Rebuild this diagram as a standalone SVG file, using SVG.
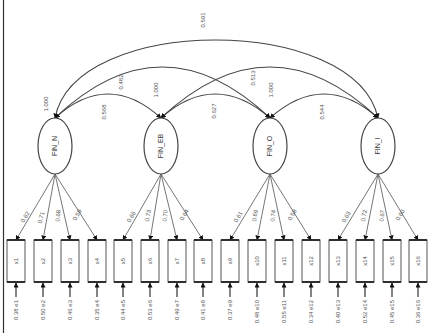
<svg xmlns="http://www.w3.org/2000/svg" width="433" height="333" viewBox="0 0 433 333">
<style>
.arc{stroke:#444;stroke-width:1.1;fill:none;marker-start:url(#ah);marker-end:url(#ah)}
.ld{stroke:#666;stroke-width:0.9;fill:none;marker-end:url(#ah)}
.er{stroke:#333;stroke-width:1.2;fill:none;marker-end:url(#ah)}
.lat{fill:#fff;stroke:#444;stroke-width:1.2}
.box{fill:#fff;stroke:#555;stroke-width:1}
.bar{stroke:#222;stroke-width:1.8}
.t{font-family:"Liberation Sans",Arial,sans-serif;font-size:6px;fill:#555;text-anchor:middle}
.te{font-family:"Liberation Sans",Arial,sans-serif;font-size:6px;fill:#555;text-anchor:end}
.tl{font-family:"Liberation Sans",Arial,sans-serif;font-size:7px;fill:#333;text-anchor:middle}
</style>
<defs>
<marker id="ah" viewBox="0 0 10 10" refX="9" refY="5" markerWidth="5" markerHeight="5" orient="auto-start-reverse" markerUnits="userSpaceOnUse">
<path d="M0,0 L10,5 L0,10 z" fill="#111"/>
</marker>
</defs>
<rect width="433" height="333" fill="#fff"/>
<line x1="3.5" y1="0" x2="3.5" y2="333" stroke="#333" stroke-width="1.2"/>

<g id="connectors">
<path class="arc" d="M55,118 Q108,70 161,118"/>
<path class="arc" d="M161,118 Q215,70 270,118"/>
<path class="arc" d="M270,118 Q324,70 378,118"/>
<path class="arc" d="M55,118 Q162,16 270,118"/>
<path class="arc" d="M161,118 Q270,16 378,118"/>
<path class="arc" d="M55,118 C75,14 355,14 378,118"/>
<path class="ld" d="M55,174 L16,240"/>
<path class="ld" d="M55,174 L43,240"/>
<path class="ld" d="M55,174 L70,240"/>
<path class="ld" d="M55,174 L97,240"/>
<path class="ld" d="M161,174 L123,240"/>
<path class="ld" d="M161,174 L150,240"/>
<path class="ld" d="M161,174 L177,240"/>
<path class="ld" d="M161,174 L203,240"/>
<path class="ld" d="M270,174 L230,240"/>
<path class="ld" d="M270,174 L257,240"/>
<path class="ld" d="M270,174 L284,240"/>
<path class="ld" d="M270,174 L311,240"/>
<path class="ld" d="M378,174 L338,240"/>
<path class="ld" d="M378,174 L365,240"/>
<path class="ld" d="M378,174 L392,240"/>
<path class="ld" d="M378,174 L418,240"/>
<path class="er" d="M16,297 L16,283"/>
<path class="er" d="M43,297 L43,283"/>
<path class="er" d="M70,297 L70,283"/>
<path class="er" d="M97,297 L97,283"/>
<path class="er" d="M123,297 L123,283"/>
<path class="er" d="M150,297 L150,283"/>
<path class="er" d="M177,297 L177,283"/>
<path class="er" d="M203,297 L203,283"/>
<path class="er" d="M230,297 L230,283"/>
<path class="er" d="M257,297 L257,283"/>
<path class="er" d="M284,297 L284,283"/>
<path class="er" d="M311,297 L311,283"/>
<path class="er" d="M338,297 L338,283"/>
<path class="er" d="M365,297 L365,283"/>
<path class="er" d="M392,297 L392,283"/>
<path class="er" d="M418,297 L418,283"/>
</g>

<g id="cov-labels">
<text class="t" transform="translate(205,20) rotate(-90)">0.591</text>
<text class="t" transform="translate(123,82) rotate(-90)">0.482</text>
<text class="t" transform="translate(255,78) rotate(-90)">0.513</text>
<text class="t" transform="translate(106,112) rotate(-90)">0.568</text>
<text class="t" transform="translate(216,111) rotate(-90)">0.627</text>
<text class="t" transform="translate(324,112) rotate(-90)">0.544</text>
<text class="t" transform="translate(48,104) rotate(-90)">1.000</text>
<text class="t" transform="translate(158,90) rotate(-90)">1.000</text>
<text class="t" transform="translate(273,90) rotate(-90)">1.000</text>
</g>

<g id="F1"><ellipse class="lat" cx="55" cy="146" rx="17" ry="28"/><text class="tl" transform="translate(57,146) rotate(-90)">FIN_N</text></g>
<g id="F2"><ellipse class="lat" cx="161" cy="146" rx="17" ry="28"/><text class="tl" transform="translate(163,146) rotate(-90)">FIN_EB</text></g>
<g id="F3"><ellipse class="lat" cx="270" cy="146" rx="17" ry="28"/><text class="tl" transform="translate(272,146) rotate(-90)">FIN_O</text></g>
<g id="F4"><ellipse class="lat" cx="378" cy="146" rx="17" ry="28"/><text class="tl" transform="translate(380,146) rotate(-90)">FIN_I</text></g>

<g id="loading-labels">
<text class="t" transform="translate(27,218) rotate(-60)">0.62</text>
<text class="t" transform="translate(43,218) rotate(-75)">0.71</text>
<text class="t" transform="translate(60,216) rotate(-85)">0.68</text>
<text class="t" transform="translate(79,216) rotate(-60)">0.59</text>
<text class="t" transform="translate(133,218) rotate(-60)">0.66</text>
<text class="t" transform="translate(150,216) rotate(-80)">0.73</text>
<text class="t" transform="translate(167,216) rotate(-85)">0.70</text>
<text class="t" transform="translate(186,216) rotate(-60)">0.64</text>
<text class="t" transform="translate(240,218) rotate(-60)">0.61</text>
<text class="t" transform="translate(257,216) rotate(-80)">0.69</text>
<text class="t" transform="translate(275,216) rotate(-85)">0.74</text>
<text class="t" transform="translate(294,216) rotate(-60)">0.58</text>
<text class="t" transform="translate(348,218) rotate(-60)">0.63</text>
<text class="t" transform="translate(366,216) rotate(-80)">0.72</text>
<text class="t" transform="translate(384,216) rotate(-85)">0.67</text>
<text class="t" transform="translate(402,216) rotate(-60)">0.60</text>
</g>

<g id="x1"><rect class="box" x="7" y="240" width="18" height="42"/><line class="bar" x1="7" y1="240" x2="25" y2="240"/><line class="bar" x1="7" y1="282" x2="25" y2="282"/><text class="t" transform="translate(18,261) rotate(-90)">x1</text></g>
<g id="x2"><rect class="box" x="34" y="240" width="18" height="42"/><line class="bar" x1="34" y1="240" x2="52" y2="240"/><line class="bar" x1="34" y1="282" x2="52" y2="282"/><text class="t" transform="translate(45,261) rotate(-90)">x2</text></g>
<g id="x3"><rect class="box" x="61" y="240" width="18" height="42"/><line class="bar" x1="61" y1="240" x2="79" y2="240"/><line class="bar" x1="61" y1="282" x2="79" y2="282"/><text class="t" transform="translate(72,261) rotate(-90)">x3</text></g>
<g id="x4"><rect class="box" x="88" y="240" width="18" height="42"/><line class="bar" x1="88" y1="240" x2="106" y2="240"/><line class="bar" x1="88" y1="282" x2="106" y2="282"/><text class="t" transform="translate(99,261) rotate(-90)">x4</text></g>
<g id="x5"><rect class="box" x="114" y="240" width="18" height="42"/><line class="bar" x1="114" y1="240" x2="132" y2="240"/><line class="bar" x1="114" y1="282" x2="132" y2="282"/><text class="t" transform="translate(125,261) rotate(-90)">x5</text></g>
<g id="x6"><rect class="box" x="141" y="240" width="18" height="42"/><line class="bar" x1="141" y1="240" x2="159" y2="240"/><line class="bar" x1="141" y1="282" x2="159" y2="282"/><text class="t" transform="translate(152,261) rotate(-90)">x6</text></g>
<g id="x7"><rect class="box" x="168" y="240" width="18" height="42"/><line class="bar" x1="168" y1="240" x2="186" y2="240"/><line class="bar" x1="168" y1="282" x2="186" y2="282"/><text class="t" transform="translate(179,261) rotate(-90)">x7</text></g>
<g id="x8"><rect class="box" x="194" y="240" width="18" height="42"/><line class="bar" x1="194" y1="240" x2="212" y2="240"/><line class="bar" x1="194" y1="282" x2="212" y2="282"/><text class="t" transform="translate(205,261) rotate(-90)">x8</text></g>
<g id="x9"><rect class="box" x="221" y="240" width="18" height="42"/><line class="bar" x1="221" y1="240" x2="239" y2="240"/><line class="bar" x1="221" y1="282" x2="239" y2="282"/><text class="t" transform="translate(232,261) rotate(-90)">x9</text></g>
<g id="x10"><rect class="box" x="248" y="240" width="18" height="42"/><line class="bar" x1="248" y1="240" x2="266" y2="240"/><line class="bar" x1="248" y1="282" x2="266" y2="282"/><text class="t" transform="translate(259,261) rotate(-90)">x10</text></g>
<g id="x11"><rect class="box" x="275" y="240" width="18" height="42"/><line class="bar" x1="275" y1="240" x2="293" y2="240"/><line class="bar" x1="275" y1="282" x2="293" y2="282"/><text class="t" transform="translate(286,261) rotate(-90)">x11</text></g>
<g id="x12"><rect class="box" x="302" y="240" width="18" height="42"/><line class="bar" x1="302" y1="240" x2="320" y2="240"/><line class="bar" x1="302" y1="282" x2="320" y2="282"/><text class="t" transform="translate(313,261) rotate(-90)">x12</text></g>
<g id="x13"><rect class="box" x="329" y="240" width="18" height="42"/><line class="bar" x1="329" y1="240" x2="347" y2="240"/><line class="bar" x1="329" y1="282" x2="347" y2="282"/><text class="t" transform="translate(340,261) rotate(-90)">x13</text></g>
<g id="x14"><rect class="box" x="356" y="240" width="18" height="42"/><line class="bar" x1="356" y1="240" x2="374" y2="240"/><line class="bar" x1="356" y1="282" x2="374" y2="282"/><text class="t" transform="translate(367,261) rotate(-90)">x14</text></g>
<g id="x15"><rect class="box" x="383" y="240" width="18" height="42"/><line class="bar" x1="383" y1="240" x2="401" y2="240"/><line class="bar" x1="383" y1="282" x2="401" y2="282"/><text class="t" transform="translate(394,261) rotate(-90)">x15</text></g>
<g id="x16"><rect class="box" x="409" y="240" width="18" height="42"/><line class="bar" x1="409" y1="240" x2="427" y2="240"/><line class="bar" x1="409" y1="282" x2="427" y2="282"/><text class="t" transform="translate(420,261) rotate(-90)">x16</text></g>

<g id="errors">
<text class="te" transform="translate(18,300) rotate(-90)">0.38 e1</text>
<text class="te" transform="translate(45,300) rotate(-90)">0.50 e2</text>
<text class="te" transform="translate(72,300) rotate(-90)">0.46 e3</text>
<text class="te" transform="translate(99,300) rotate(-90)">0.35 e4</text>
<text class="te" transform="translate(125,300) rotate(-90)">0.44 e5</text>
<text class="te" transform="translate(152,300) rotate(-90)">0.53 e6</text>
<text class="te" transform="translate(179,300) rotate(-90)">0.49 e7</text>
<text class="te" transform="translate(205,300) rotate(-90)">0.41 e8</text>
<text class="te" transform="translate(232,300) rotate(-90)">0.37 e9</text>
<text class="te" transform="translate(259,300) rotate(-90)">0.48 e10</text>
<text class="te" transform="translate(286,300) rotate(-90)">0.55 e11</text>
<text class="te" transform="translate(313,300) rotate(-90)">0.34 e12</text>
<text class="te" transform="translate(340,300) rotate(-90)">0.40 e13</text>
<text class="te" transform="translate(367,300) rotate(-90)">0.52 e14</text>
<text class="te" transform="translate(394,300) rotate(-90)">0.45 e15</text>
<text class="te" transform="translate(420,300) rotate(-90)">0.36 e16</text>
</g>
</svg>
